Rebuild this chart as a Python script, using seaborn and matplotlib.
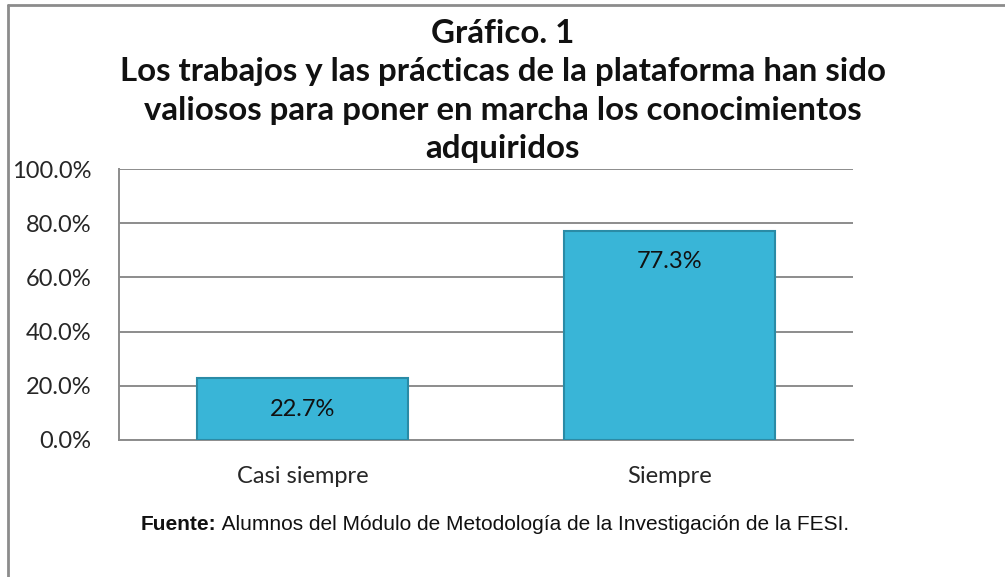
import matplotlib
matplotlib.use("Agg")
import matplotlib.pyplot as plt
import seaborn as sns
import pandas as pd
from matplotlib.lines import Line2D

categories = ["Casi siempre", "Siempre"]
values = [22.7, 77.3]
y_ticks = [0, 20, 40, 60, 80, 100]
y_tick_labels = ["0.0%", "20.0%", "40.0%", "60.0%", "80.0%", "100.0%"]
title_text = ("Gráfico. 1\nLos trabajos y las prácticas de la plataforma han sido\n"
              "valiosos para poner en marcha los conocimientos\nadquiridos")
source_bold = "Fuente:"
source_text = " Alumnos del Módulo de Metodología de la Investigación de la FESI."

sns.set_theme(style="white")
plt.rcParams['font.family'] = ['Lato', 'DejaVu Sans']

df = pd.DataFrame({"cat": categories, "val": values})

fig = plt.figure(figsize=(10.05, 5.77), dpi=100)
ax = fig.add_axes([119/1005, 1-440/577, (853-119)/1005, (440-169)/577])

sns.barplot(data=df, x="cat", y="val", ax=ax, color="#39B5D7", width=0.575,
            edgecolor="#2A8BA6", linewidth=1.5, saturation=1, zorder=3)

ax.set_ylim(0, 100)
ax.set_xlim(-0.5, 1.5)
ax.set_yticks(y_ticks)
ax.set_yticklabels(y_tick_labels, fontsize=17)
ax.tick_params(axis='x', labelsize=17, pad=19, length=0)
ax.tick_params(axis='y', pad=20, length=0)
ax.set_xlabel("")
ax.set_ylabel("")
ax.yaxis.grid(True, color="#8C8C8C", linewidth=1.4, zorder=0)
for s in ["top", "right"]:
    ax.spines[s].set_visible(False)
for s in ["left", "bottom"]:
    ax.spines[s].set_color("#8C8C8C")
    ax.spines[s].set_linewidth(1.4)

for p, v in zip(ax.patches, values):
    x = p.get_x() + p.get_width() / 2
    ax.annotate(f"{v:.1f}%", xy=(x, p.get_height()), xytext=(0, -31),
                textcoords="offset pixels",
                ha="center", va="center", fontsize=17, color="#111111", zorder=5)

fig.text(0.5, 1 - 91/577, title_text, ha="center", va="center",
         fontsize=23.8, fontweight="bold", linespacing=1.38, color="#111111")

t1 = fig.text(141/1005, 1 - 525/577, source_bold, ha="left", va="center",
              fontsize=15, family="Liberation Sans", fontweight="bold", color="#111111")
ax.annotate(source_text, xy=(1, 0.5), xycoords=t1, ha="left", va="center",
            fontsize=15, family="Liberation Sans", color="#111111", annotation_clip=False)

# outer frame (left and top edges)
fig.add_artist(Line2D([8/1005, 8/1005], [0, 1 - 5/577], transform=fig.transFigure,
                      color="#8C8C8C", linewidth=2))
fig.add_artist(Line2D([8/1005, 1], [1 - 5/577, 1 - 5/577], transform=fig.transFigure,
                      color="#8C8C8C", linewidth=2))

fig.savefig("out.png", dpi=100)
